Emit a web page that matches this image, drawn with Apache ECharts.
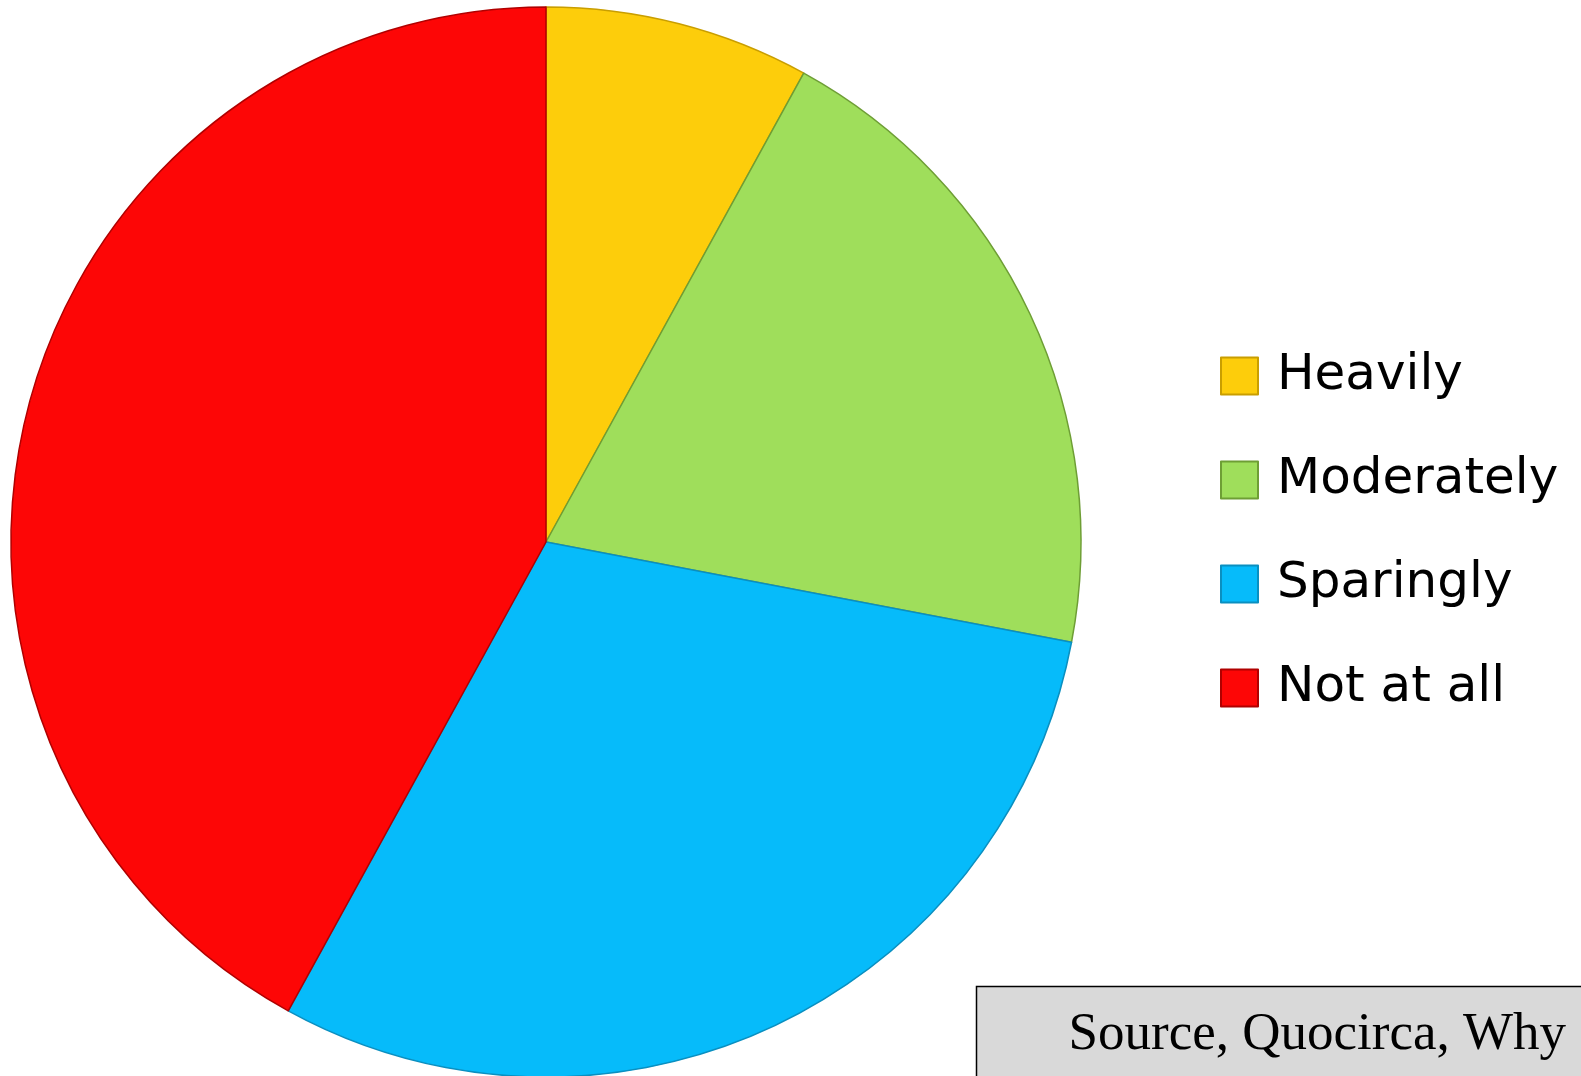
<!DOCTYPE html>
<html>
<head>
<meta charset="utf-8">
<script src="https://cdn.jsdelivr.net/npm/echarts@6/dist/echarts.min.js"></script>
<style>
html,body{margin:0;padding:0;background:#fff;}
#chart{width:1581px;height:1076px;}
</style>
</head>
<body>
<div id="chart"></div>
<script>
const categories = ['Heavily', 'Moderately', 'Sparingly', 'Not at all'];
const values = [8, 20, 30, 42];
const colors = ['#FDCD0B', '#9FDE5B', '#06BBFA', '#FD0606'];
const borderColors = ['#C99E00', '#6E9E35', '#0A8FC0', '#B00000'];
const sourceLines = ['Source, Quocirca, Why'];

const chart = echarts.init(document.getElementById('chart'));
chart.setOption({
  animation: false,
  backgroundColor: '#ffffff',
  legend: {
    orient: 'vertical',
    left: 1215,
    top: 346,
    icon: 'rect',
    itemWidth: 37,
    itemHeight: 37,
    itemGap: 54,
    data: categories,
    textStyle: {
      fontFamily: 'DejaVu Sans',
      fontSize: 50,
      lineHeight: 50,
      color: '#000',
      padding: [0, 0, 0, 14]
    }
  },
  series: [{
    type: 'pie',
    center: [546, 542],
    radius: 535,
    startAngle: 90,
    clockwise: true,
    label: { show: false },
    labelLine: { show: false },
    emphasis: { disabled: true },
    data: categories.map((c, i) => ({
      name: c,
      value: values[i],
      itemStyle: { color: colors[i], borderColor: borderColors[i], borderWidth: 1.5 }
    }))
  }],
  graphic: [
    {
      type: 'rect',
      shape: { x: 976.5, y: 986.5, width: 640, height: 140 },
      style: { fill: '#D9D9D9', stroke: '#000', lineWidth: 1.5 },
      z: 10
    },
    {
      type: 'text',
      x: 1566,
      y: 1062,
      style: {
        text: sourceLines[0],
        font: '53px "Liberation Serif", "Times New Roman", serif',
        fill: '#000',
        textAlign: 'right',
        textVerticalAlign: 'bottom'
      },
      z: 11
    }
  ]
});
</script>
</body>
</html>
